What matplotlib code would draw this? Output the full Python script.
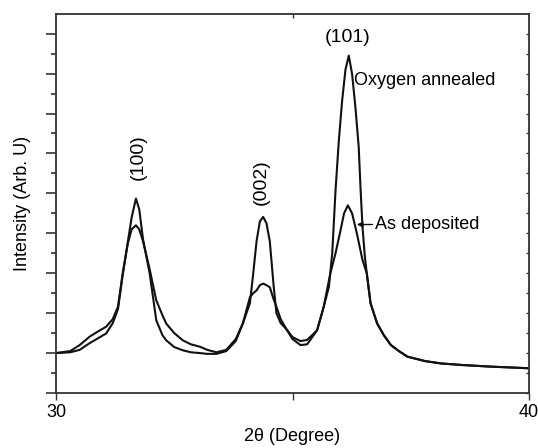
import matplotlib
matplotlib.use("Agg")
import matplotlib.pyplot as plt

plt.rcParams['font.family'] = ['Liberation Sans', 'DejaVu Sans']

# Oxygen annealed pattern
ann_x = [30.0, 30.3, 30.5, 30.7, 30.9, 31.06, 31.2, 31.31, 31.41, 31.52, 31.6, 31.69,
         31.76, 31.84, 31.98, 32.12, 32.25, 32.33, 32.5, 32.68, 32.85, 33.04, 33.2, 33.39,
         33.6, 33.8, 33.95, 34.1, 34.17, 34.24, 34.31, 34.38, 34.45, 34.52, 34.6, 34.66,
         34.75, 34.87, 35.0, 35.17, 35.31, 35.52, 35.66, 35.77, 35.84, 35.91, 35.98,
         36.05, 36.12, 36.19, 36.26, 36.33, 36.40, 36.44, 36.48, 36.53, 36.57, 36.65,
         36.79, 36.93, 37.08, 37.25, 37.43, 37.8, 38.14, 38.6, 39.2, 39.6, 40.0]
ann_y = [0.0, 0.02, 0.08, 0.24, 0.38, 0.49, 0.75, 1.1, 1.95, 2.8, 3.4, 3.87,
         3.6, 2.85, 2.0, 0.82, 0.45, 0.32, 0.15, 0.07, 0.02, 0.0, -0.02, -0.02,
         0.05, 0.3, 0.74, 1.25, 2.0, 2.8, 3.3, 3.41, 3.25, 2.8, 1.7, 1.0,
         0.75, 0.6, 0.35, 0.2, 0.22, 0.57, 1.16, 1.66, 2.5, 4.08, 5.33,
         6.33, 7.1, 7.45, 6.99, 6.16, 5.16, 4.08, 3.16, 2.41, 2.0, 1.25,
         0.74, 0.45, 0.2, 0.05, -0.09, -0.2, -0.26, -0.3, -0.34, -0.36, -0.38]

# As deposited pattern
dep_x = [30.0, 30.3, 30.5, 30.71, 30.9, 31.06, 31.2, 31.31, 31.41, 31.52, 31.6, 31.69,
         31.76, 31.84, 31.98, 32.12, 32.25, 32.33, 32.5, 32.68, 32.85, 33.04, 33.2, 33.39,
         33.6, 33.8, 33.95, 34.1, 34.17, 34.24, 34.31, 34.38, 34.45, 34.52, 34.6, 34.66,
         34.75, 34.87, 35.0, 35.17, 35.31, 35.52, 35.66, 35.8, 35.91, 36.02, 36.09,
         36.17, 36.26, 36.36, 36.48, 36.57, 36.65, 36.79, 36.93, 37.08, 37.25, 37.43,
         37.8, 38.14, 38.6, 39.2, 39.6, 40.0]
dep_y = [0.0, 0.05, 0.2, 0.41, 0.55, 0.66, 0.85, 1.16, 2.0, 2.75, 3.1, 3.2,
         3.1, 2.8, 2.1, 1.32, 0.95, 0.74, 0.5, 0.32, 0.22, 0.16, 0.08, 0.02,
         0.08, 0.35, 0.74, 1.4, 1.5, 1.57, 1.7, 1.74, 1.7, 1.65, 1.35, 1.16,
         0.85, 0.6, 0.4, 0.3, 0.33, 0.57, 1.16, 2.0, 2.5, 3.1, 3.5,
         3.7, 3.5, 3.0, 2.33, 2.0, 1.25, 0.74, 0.45, 0.2, 0.05, -0.09,
         -0.2, -0.26, -0.3, -0.34, -0.36, -0.38]

x_ticks = [30, 35, 40]
x_tick_labels = ["30", "", "40"]
peak_labels = ["(100)", "(002)", "(101)"]
peak_pos = [31.69, 34.38, 36.19]

fig = plt.figure(figsize=(5.38, 4.48), dpi=100)
ax = fig.add_axes([56/538, 55/448, 473/538, 379.3/448])

ax.plot(ann_x, ann_y, color='#111111', lw=1.5)
ax.plot(dep_x, dep_y, color='#111111', lw=1.5)

ax.set_xlim(30, 40)
ax.set_ylim(-1, 8.5)

spine_c = '#333333'
for s in ax.spines.values():
    s.set_color(spine_c)
    s.set_linewidth(1.3)

ax.set_xticks(x_ticks)
ax.set_xticklabels(x_tick_labels)
ax.tick_params(axis='x', direction='out', length=5, width=1, color=spine_c,
               labelsize=13, pad=3)
ax.set_yticks(range(-1, 9))
ax.set_yticks([v + 0.5 for v in range(-1, 8)], minor=True)
ax.tick_params(axis='y', which='major', direction='out', length=7, width=1.2,
               color=spine_c, labelleft=False)
ax.tick_params(axis='y', which='minor', direction='out', length=3.5, width=1.2,
               color=spine_c)

sec_r = ax.secondary_yaxis('right')
sec_r.set_yticks([v * 0.5 for v in range(-2, 17)])
sec_r.tick_params(direction='in', length=2, width=1, color=spine_c, labelright=False)
sec_r.spines['right'].set_visible(False)

sec_t = ax.secondary_xaxis('top')
sec_t.set_xticks([35])
sec_t.tick_params(direction='in', length=3, width=1, color=spine_c, labeltop=False)
sec_t.spines['top'].set_visible(False)

ax.set_xlabel("2θ (Degree)", fontsize=13, labelpad=5)
ax.set_ylabel("Intensity (Arb. U)", fontsize=13, labelpad=11)

ax.text(peak_pos[0] + 0.05, 4.9, peak_labels[0], rotation=90, ha='center', va='center', fontsize=14)
ax.text(peak_pos[1] - 0.05, 4.28, peak_labels[1], rotation=90, ha='center', va='center', fontsize=14)
ax.text(peak_pos[2] - 0.02, 7.9, peak_labels[2], ha='center', va='center', fontsize=14)

ax.text(36.3, 6.82, "Oxygen annealed", ha='left', va='center', fontsize=13)
ax.annotate("As deposited", xy=(36.36, 3.22), xytext=(36.75, 3.22),
            ha='left', va='center', fontsize=13,
            arrowprops=dict(arrowstyle='-|>', color='#111111', lw=1,
                            mutation_scale=8, shrinkA=0, shrinkB=0))

fig.savefig("out.png", dpi=100)
